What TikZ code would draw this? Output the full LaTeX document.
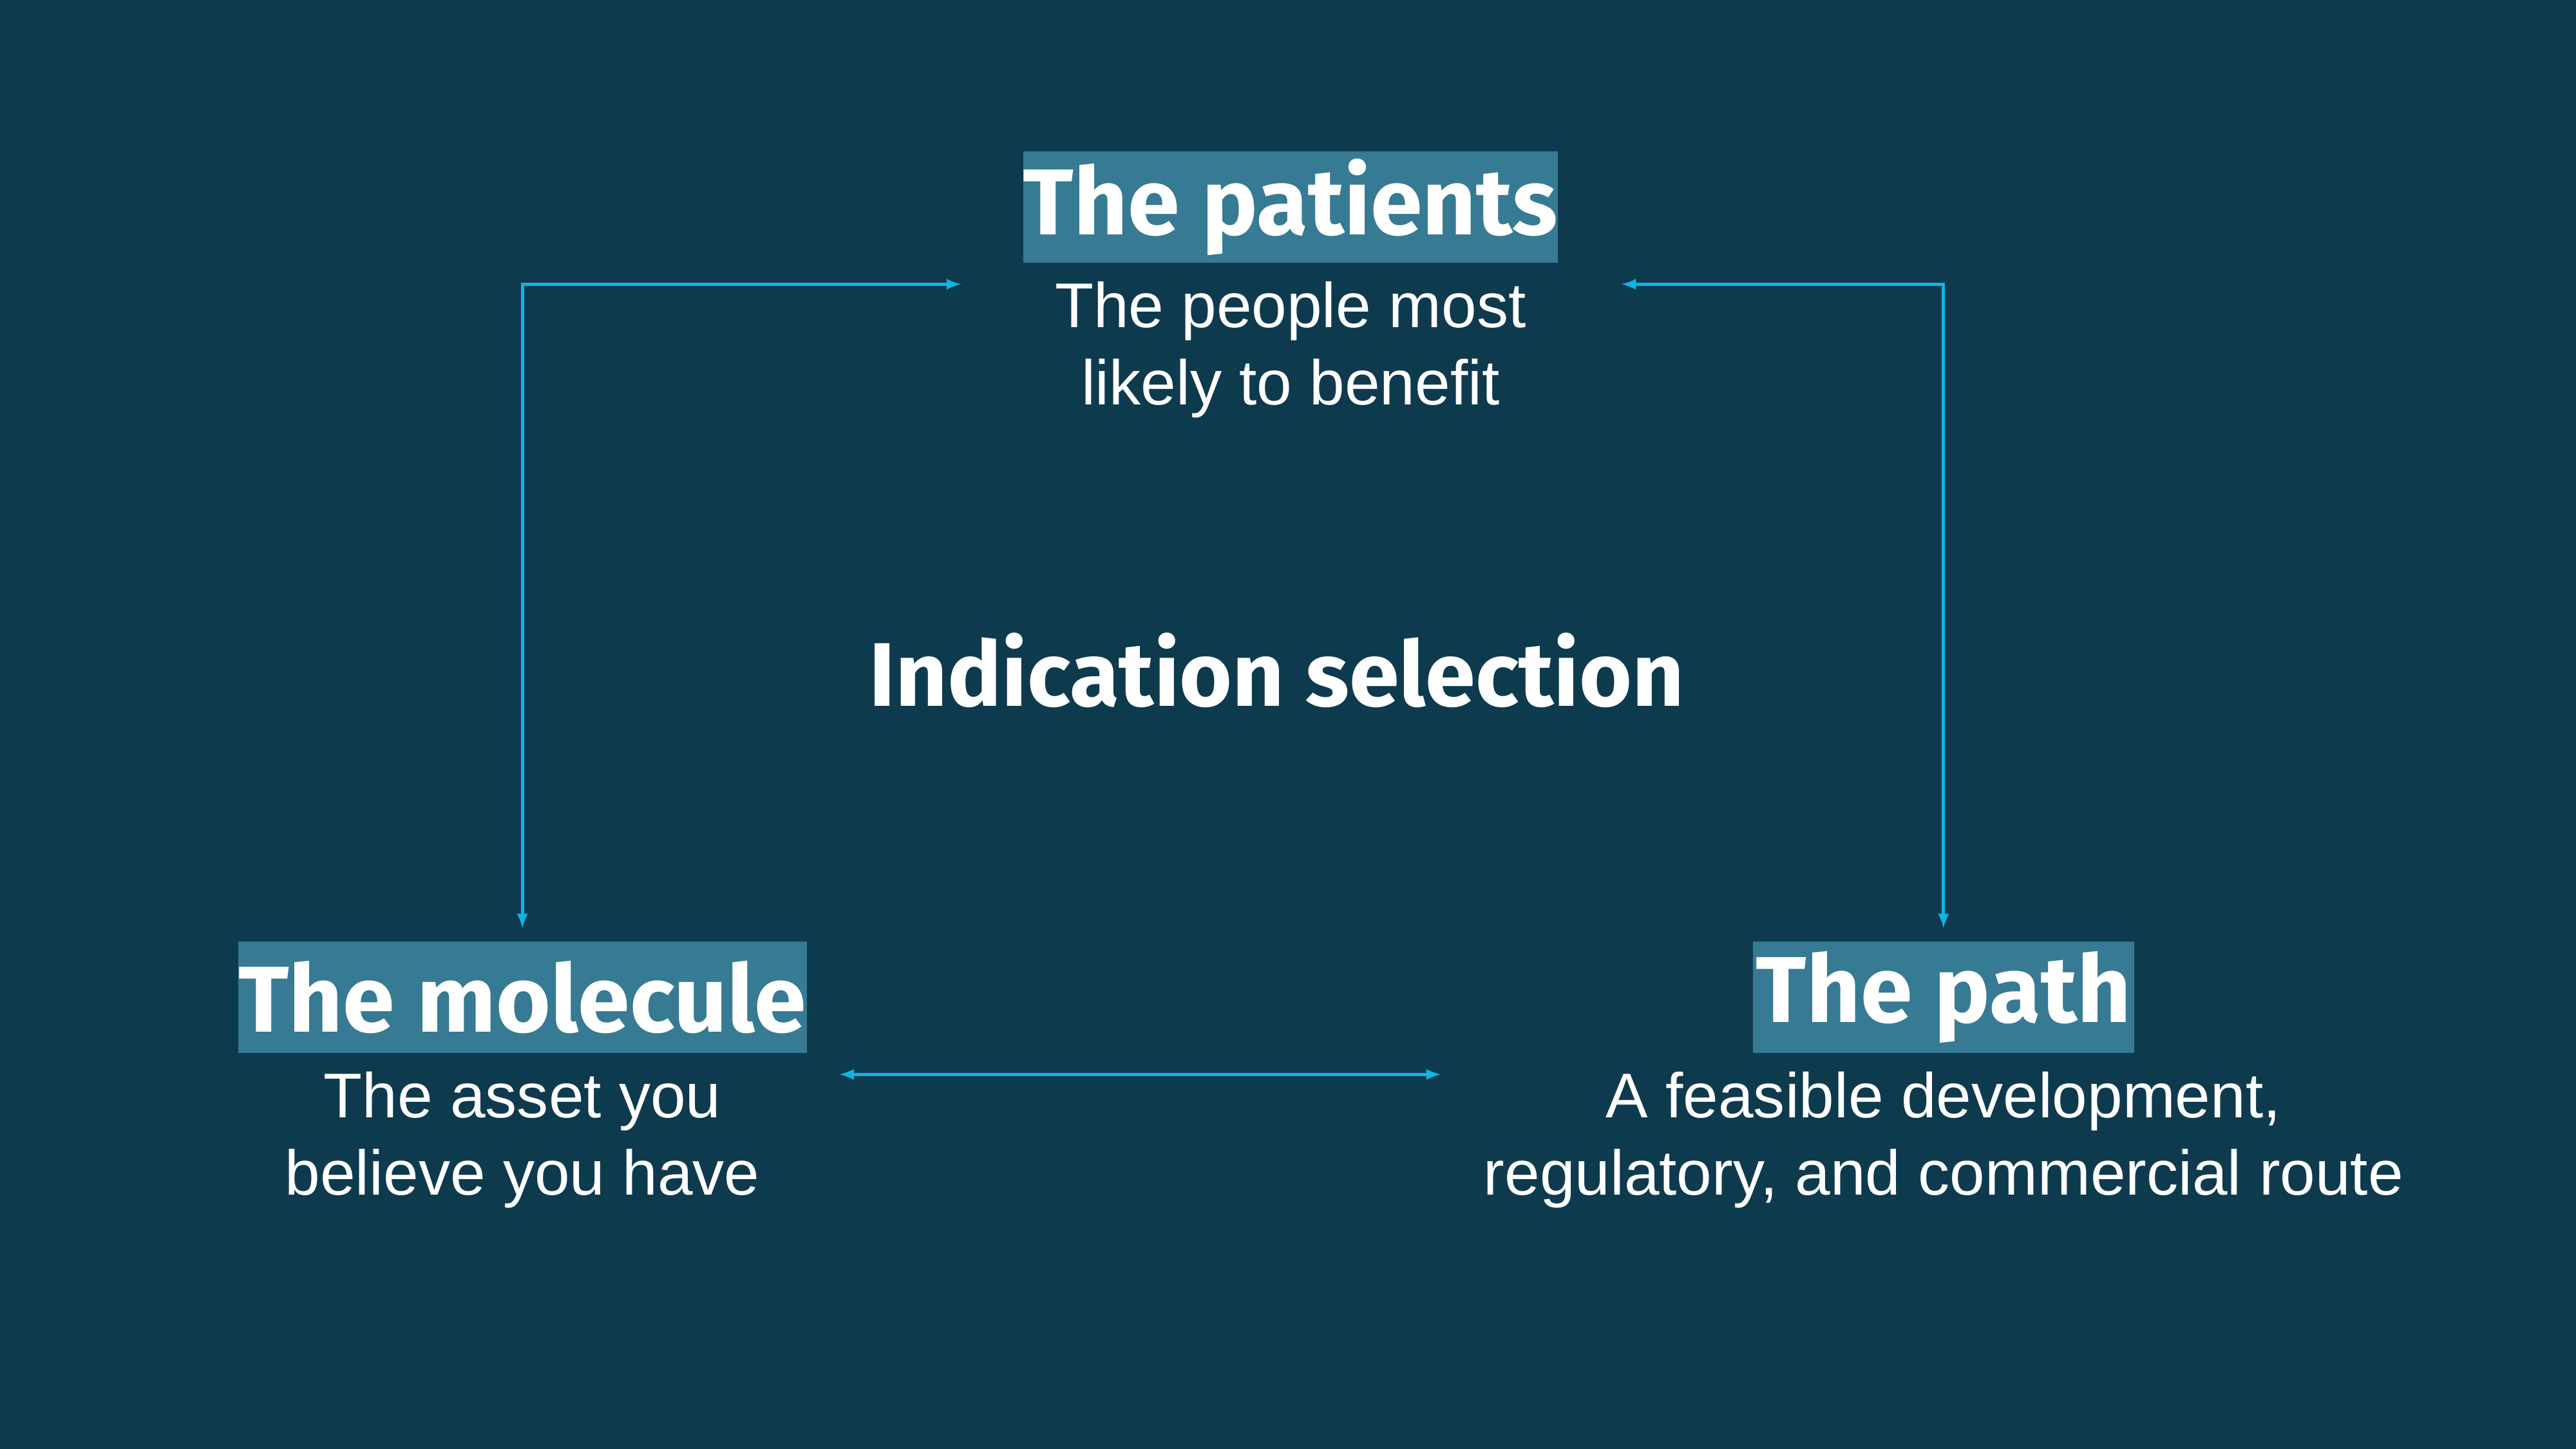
\documentclass[tikz,border=0pt]{standalone}
\usepackage{fontspec}
\setmainfont{Liberation Sans}
\newfontfamily\headfont{Fira Sans}
\usetikzlibrary{positioning}
\definecolor{bgblue}{HTML}{0E3A4E}
\definecolor{boxblue}{HTML}{377A94}
\definecolor{linkcyan}{HTML}{10B4E6}
\begin{document}
\begin{tikzpicture}
[x=1pt, y=-1pt,
 head/.style={fill=boxblue, text=white, inner sep=0pt, minimum height=68pt,
   font=\headfont\bfseries\fontsize{57}{57}\selectfont},
 sub/.style={text=white, align=center, inner sep=0pt,
   font=\fontsize{38.5}{47}\selectfont},
 link/.style={draw=linkcyan, line width=2pt}]
\fill[bgblue] (0,0) rectangle (1568,882);
\node (patients) [head, minimum width=325pt] at (785.5,126) {The patients};
\node (patientstxt) [sub, below=11pt of patients] {The people most\\likely to benefit};
\node (molecule) [head, minimum width=346pt] at (318,607) {The molecule};
\node (moleculetxt) [sub, below=11pt of molecule] {The asset you\\believe you have};
\node (path) [head, minimum width=232pt] at (1183,607) {The path};
\node (pathtxt) [sub, below=11pt of path] {A feasible development,\\regulatory, and commercial route};
\node (centre) [text=white, inner sep=0pt, font=\headfont\bfseries\fontsize{55}{55}\selectfont] at (777,408) {Indication selection};
% connectors
\coordinate (lc) at (318,173);
\coordinate (rc) at (1183,173);
\coordinate (pl) at (585,173);
\coordinate (pr) at (987,173);
\coordinate (mt) at (318,565);
\coordinate (ht) at (1183,565);
\coordinate (mr) at (511,654);
\coordinate (hl) at (877,654);
\draw [link, latex-latex] (pl) -- (lc) -- (mt);
\draw [link, latex-latex] (pr) -- (rc) -- (ht);
\draw [link, latex-latex] (mr) -- (hl);
\end{tikzpicture}
\end{document}
